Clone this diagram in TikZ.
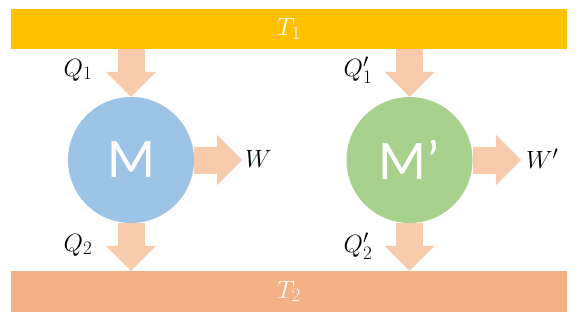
\RequirePackage{fix-cm}
\documentclass[tikz,border=0pt]{standalone}
\usepackage{amsmath}
\usepackage{fontspec}
\newfontfamily\carlito{Carlito}
\usepackage{tikz}
\usetikzlibrary{calc, arrows.meta}

\definecolor{hotbar}{HTML}{FFC000}
\definecolor{coldbar}{HTML}{F4B183}
\definecolor{heatarrow}{HTML}{F8CBAD}
\definecolor{engineblue}{HTML}{9DC3E6}
\definecolor{enginegreen}{HTML}{A9D18E}

\DeclareMathSizes{25}{25}{19}{13}

\tikzset{
  reservoir/.style={rectangle, minimum width=556pt, minimum height=40pt, inner sep=0pt,
    text=white, font=\fontsize{25}{29}\selectfont},
  engine/.style={circle, minimum size=126pt, inner sep=0pt, text=white,
    font=\carlito\fontsize{56}{60}\selectfont},
  heat/.style={heatarrow, line width=27pt,
    -{Triangle[length=25pt, width=50pt, line width=0pt]}},
  lbl/.style={font=\fontsize{25}{29}\selectfont, inner sep=0pt}
}

\begin{document}
\begin{tikzpicture}[x=1pt, y=-1pt]
  \useasboundingbox (0,0) rectangle (580,324);

  % serbatoi
  \node[reservoir, fill=hotbar] (hot) at (289,29) {$T_1$\hspace{8pt}};
  \node[reservoir, fill=coldbar, minimum height=41pt] (cold) at (289,291.5) {$T_2$\hspace{8pt}};

  % macchine
  \node[engine, fill=engineblue] (M) at (131,160) {M};
  \node[engine, fill=enginegreen] (Mp) at (409.5,160) {M’};

  % estremi del lavoro
  \coordinate (wM) at (242,160);
  \coordinate (wMp) at (521,160);

  % frecce di calore e lavoro
  \draw[heat] (hot.south -| M) -- (M.north);
  \draw[heat] (M.south) -- (cold.north -| M);
  \draw[heat] (M.east) -- (wM);
  \draw[heat] (hot.south -| Mp) -- (Mp.north);
  \draw[heat] (Mp.south) -- (cold.north -| Mp);
  \draw[heat] (Mp.east) -- (wMp);

  % etichette
  \node[lbl] (q1) at (78,70) {$Q_1$};
  \node[lbl] (q2) at (78,245) {$Q_2$};
  \node[lbl, anchor=west] (w) at (245,159) {$W$};
  \node[lbl] (q1p) at (358,70) {$Q_1'$};
  \node[lbl] (q2p) at (358,246) {$Q_2'$};
  \node[lbl, anchor=west] (wp) at (526,159) {$W'$};
\end{tikzpicture}
\end{document}
